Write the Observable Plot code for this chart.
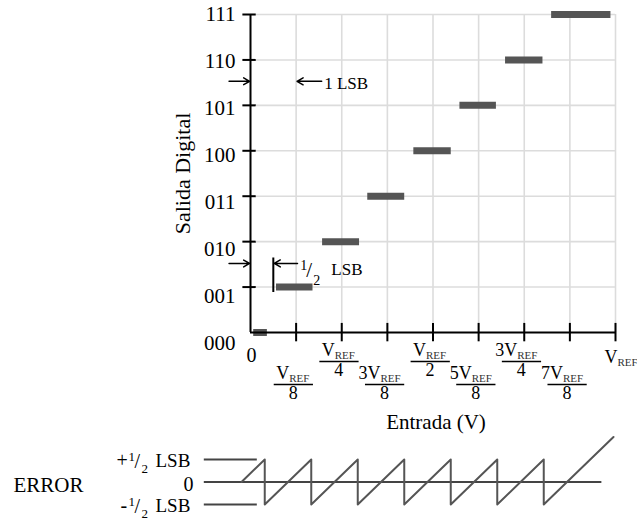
<!DOCTYPE html>
<html><head><meta charset="utf-8">
<script src="https://cdn.jsdelivr.net/npm/d3@7"></script>
<script src="https://cdn.jsdelivr.net/npm/@observablehq/plot@0.6"></script>
<style>
body{margin:0;background:#fff;overflow:hidden;}
#chart svg{display:block;}
</style></head><body><div id="chart"></div>
<script>
// ---- data ----
const codes = [0,1,2,3,4,5,6,7];
const codeLabels = ["000","001","010","011","100","101","110","111"];
const barStart = [0.07,0.57,1.58,2.57,3.58,4.59,5.59,6.6];
const barEnd   = [0.37,1.37,2.39,3.38,4.40,5.39,6.41,7.9];
const xTicks = [1,2,3,4,5,6,7,8];
const xTickNum = ["V","V","3V","V","5V","3V","7V","V"];
const xTickDen = ["8","4","8","2","8","4","8",""];
const xSub = "REF";
const errX = [0,0.5,0.5,1.5,1.5,2.5,2.5,3.5,3.5,4.5,4.5,5.5,5.5,6.5,6.5,8];
const errY = [0,0.5,-0.5,0.5,-0.5,0.5,-0.5,0.5,-0.5,0.5,-0.5,0.5,-0.5,0.5,-0.5,1.0];
const lsbArrows = [
  {x1:-0.47, x2:-0.02, y:5.53}, {x1:1.56, x2:1.02, y:5.53},
  {x1:-0.47, x2:-0.02, y:1.52}, {x1:1.03, x2:0.52, y:1.52}
];
const halfLsbMarker = {x:0.5, y1:0.88, y2:1.64};

const SERIF = "'Liberation Serif','Times New Roman',serif";
const INK = "#000";
const BAR = "#555";
const GRID = "#dcdcdc";

// ---- top plot ----
const bars = codes.map((c,i)=>({code:c, x1:barStart[i], x2:barEnd[i]}));
const ticks = xTicks.map((x,i)=>({x, num:xTickNum[i], den:xTickDen[i], upper: i%2===1}));
const lowerT = ticks.filter(d=>!d.upper && d.den);
const upperT = ticks.filter(d=>d.upper && d.den);
const lastT = ticks.filter(d=>!d.den);
const zero = () => 0;

function fracMarks(data, base){
  return [
    Plot.text(data, {x:"x", y:zero, text:"num", textAnchor:"end", lineAnchor:"bottom", dx:-7, dy:base, fontSize:18, fill:INK}),
    Plot.text(data, {x:"x", y:zero, text:()=>xSub, textAnchor:"start", lineAnchor:"bottom", dx:-7, dy:base+3, fontSize:11, fill:"#333"}),
    Plot.ruleY(data, {y:zero, x1:d=>d.x-0.48, x2:d=>d.x+0.38, dy:base+6, stroke:INK, strokeWidth:1.6}),
    Plot.text(data, {x:"x", y:zero, text:"den", textAnchor:"middle", lineAnchor:"bottom", dx:-3, dy:base+20, fontSize:18, fill:INK})
  ];
}

const topChart = Plot.plot({
  width:637, height:436,
  marginLeft:250, marginRight:22, marginTop:14, marginBottom:104,
  x:{domain:[0,8], axis:null},
  y:{domain:[0,7], axis:null},
  style:{fontFamily:SERIF, background:"#fff", overflow:"hidden"},
  marks:[
    Plot.ruleX(xTicks, {y1:0, y2:7, stroke:GRID, strokeWidth:1.6}),
    Plot.ruleY(codes.slice(1), {x1:0, x2:8, stroke:GRID, strokeWidth:1.6}),
    Plot.ruleY(bars, {y:"code", x1:"x1", x2:"x2", stroke:BAR, strokeWidth:7}),
    Plot.ruleX([0], {y1:0, y2:7, stroke:INK, strokeWidth:2}),
    Plot.ruleY([0], {x1:0, x2:8, stroke:INK, strokeWidth:2}),
    Plot.ruleY(codes.slice(1), {x1:-0.167, x2:0.125, stroke:INK, strokeWidth:2}),
    Plot.ruleX(xTicks, {y1:-0.205, y2:0.2, stroke:INK, strokeWidth:2}),
    Plot.text(codes, {x:zero, y:d=>d-(7-d)*0.034, text:d=>codeLabels[d], textAnchor:"end", dx:-15, fontSize:21, fill:INK}),
    Plot.text(["0"], {x:zero, y:zero, text:d=>d, lineAnchor:"bottom", dx:1, dy:29, fontSize:20, fill:INK}),
    ...fracMarks(upperT, 23),
    ...fracMarks(lowerT, 46),
    Plot.text(lastT, {x:"x", y:zero, text:"num", textAnchor:"end", lineAnchor:"bottom", dx:2, dy:30, fontSize:18, fill:INK}),
    Plot.text(lastT, {x:"x", y:zero, text:()=>xSub, textAnchor:"start", lineAnchor:"bottom", dx:2, dy:33, fontSize:11, fill:"#333"}),
    Plot.text(["Entrada (V)"], {frameAnchor:"bottom", text:d=>d, textAnchor:"middle", lineAnchor:"bottom", dx:3, dy:96, fontSize:21, fill:INK}),
    Plot.text(["Salida Digital"], {frameAnchor:"left", text:d=>d, textAnchor:"middle", rotate:-90, dx:-68, fontSize:22, fill:INK}),
    // annotations
    Plot.arrow(lsbArrows, {x1:"x1", x2:"x2", y1:"y", y2:"y", stroke:INK, strokeWidth:1.5, headLength:7}),
    Plot.ruleX([halfLsbMarker], {x:"x", y1:"y1", y2:"y2", stroke:INK, strokeWidth:2}),
    Plot.text(["1 LSB"], {x:()=>1, y:()=>5.53, text:d=>d, textAnchor:"start", lineAnchor:"bottom", dx:28, dy:8, fontSize:17, fill:INK}),
    Plot.text(["1"], {x:()=>0.5, y:()=>1.52, text:d=>d, textAnchor:"start", lineAnchor:"bottom", dx:27, dy:7, fontSize:14, fill:INK}),
    Plot.text(["/"], {x:()=>0.5, y:()=>1.52, text:d=>d, textAnchor:"start", lineAnchor:"bottom", dx:33, dy:14, fontSize:21, fill:INK}),
    Plot.text(["2"], {x:()=>0.5, y:()=>1.52, text:d=>d, textAnchor:"start", lineAnchor:"bottom", dx:40, dy:22, fontSize:14, fill:INK}),
    Plot.text(["LSB"], {x:()=>0.5, y:()=>1.52, text:d=>d, textAnchor:"start", lineAnchor:"bottom", dx:58, dy:12, fontSize:17, fill:INK})
  ]
});

// ---- error plot ----
const err = errX.map((x,i)=>({x, e:errY[i]}));
function halfLabel(sign, yv, signDx){
  const base = {y:()=>yv, frameAnchor:"left", textAnchor:"start", lineAnchor:"bottom", fill:INK};
  return [
    Plot.text([sign], {...base, text:d=>d, dx:signDx, dy:7, fontSize:20}),
    Plot.text(["1"], {...base, text:d=>d, dx:-113, dy:1, fontSize:13}),
    Plot.text(["/"], {...base, text:d=>d, dx:-107, dy:8, fontSize:20}),
    Plot.text(["2"], {...base, text:d=>d, dx:-100, dy:13, fontSize:13}),
    Plot.text(["LSB"], {...base, text:d=>d, dx:-86, dy:7, fontSize:19})
  ];
}
const bottomChart = Plot.plot({
  width:637, height:87,
  marginLeft:241, marginRight:24, marginTop:23, marginBottom:19,
  x:{domain:[0,8], axis:null},
  y:{domain:[-0.5,0.5], axis:null},
  style:{fontFamily:SERIF, background:"#fff", overflow:"visible"},
  marks:[
    Plot.ruleY([0], {x1:-0.8, x2:7.75, stroke:"#444", strokeWidth:2}),
    Plot.ruleY([0.5,-0.5], {x1:-0.8, x2:0.34, stroke:"#444", strokeWidth:2}),
    Plot.line(err, {x:"x", y:"e", stroke:BAR, strokeWidth:2}),
    Plot.text(["ERROR"], {frameAnchor:"left", text:d=>d, textAnchor:"start", dx:-228, dy:3, fontSize:21, fill:INK}),
    ...halfLabel("+", 0.5, -125),
    ...halfLabel("-", -0.5, -121),
    Plot.text(["0"], {y:()=>0, frameAnchor:"left", text:d=>d, textAnchor:"end", dx:-48, dy:3, fontSize:20, fill:INK})
  ]
});

document.getElementById("chart").append(topChart, bottomChart);
</script></body></html>
